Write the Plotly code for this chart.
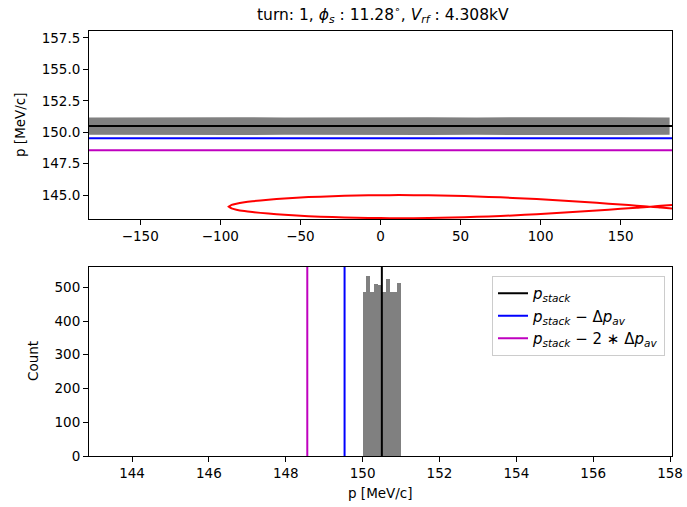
import plotly.graph_objects as go

# ---------------- data ----------------
title_text = "turn: 1, <i>ϕ<sub>s</sub></i> : 11.28<sup>∘</sup>, <i>V<sub>rf</sub></i> : 4.308kV"

p_stack = 150.50
p_stack_minus_dp = 149.53
p_stack_minus_2dp = 148.56

# particle band (phase in deg, momentum edges in MeV/c)
band_phase = [-182, -150, -120, -90, -60, -30, 0, 30, 60, 90, 120, 150, 180.5]
band_upper = [151.18, 151.20, 151.17, 151.19, 151.18, 151.20, 151.17, 151.19, 151.18, 151.20, 151.17, 151.19, 151.18]
band_lower = [149.79, 149.77, 149.80, 149.78, 149.79, 149.77, 149.80, 149.78, 149.79, 149.77, 149.80, 149.78, 149.79]

# separatrix (red)
sep_phase = [-94.7, -93, -90, -85, -80, -70, -60, -45, -30, -15, 0, 11.3, 30, 45, 60, 75, 90, 105, 120, 135, 150, 160, 168.7, 175, 182]
sep_upper = [144.08, 144.22, 144.32, 144.43, 144.51, 144.63, 144.73, 144.84, 144.91, 144.97, 144.99, 145.00, 144.98, 144.95, 144.89, 144.82, 144.73, 144.63, 144.51, 144.39, 144.25, 144.16, 144.08, 144.15, 144.22]
sep_lower = [144.08, 143.94, 143.84, 143.73, 143.65, 143.53, 143.43, 143.32, 143.25, 143.19, 143.17, 143.16, 143.18, 143.21, 143.27, 143.34, 143.43, 143.53, 143.65, 143.77, 143.91, 144.00, 144.08, 144.01, 143.94]

# histogram
hist_centers = [150.05, 150.15, 150.25, 150.35, 150.45, 150.55, 150.65, 150.75, 150.85, 150.95]
hist_counts = [486, 534, 487, 511, 507, 487, 525, 487, 487, 513]
hist_bin_width = 0.1

top_xticks = [-150, -100, -50, 0, 50, 100, 150]
top_yticks = [145.0, 147.5, 150.0, 152.5, 155.0, 157.5]
bot_xticks = [144, 146, 148, 150, 152, 154, 156, 158]
bot_yticks = [0, 100, 200, 300, 400, 500]

# ---------------- figure ----------------
W, H = 687, 507
FONT = "DejaVu Sans"
GRAY = "#808080"

fig = go.Figure()

# top panel
fig.add_trace(go.Scatter(
    x=band_phase + band_phase[::-1], y=band_upper + band_lower[::-1],
    fill="toself", fillcolor=GRAY, mode="lines", line=dict(width=0, color=GRAY),
    showlegend=False, xaxis="x", yaxis="y", hoverinfo="skip"))
top_x = [-182, 182]
for val, col in [(p_stack, "black"), (p_stack_minus_dp, "blue"), (p_stack_minus_2dp, "#bf00bf")]:
    fig.add_trace(go.Scatter(x=top_x, y=[val, val], mode="lines",
                             line=dict(color=col, width=2), showlegend=False,
                             xaxis="x", yaxis="y"))
fig.add_trace(go.Scatter(
    x=sep_phase[::-1] + sep_phase, y=sep_lower[::-1] + sep_upper,
    mode="lines", line=dict(color="red", width=2, shape="spline", smoothing=0.6),
    showlegend=False, xaxis="x", yaxis="y"))

# bottom panel
fig.add_trace(go.Bar(x=hist_centers, y=hist_counts, width=hist_bin_width,
                     marker=dict(color=GRAY, line=dict(width=0)),
                     showlegend=False, xaxis="x2", yaxis="y2"))
names = ["<i>p<sub>stack</sub></i>",
         "<i>p<sub>stack</sub></i> − Δ<i>p<sub>av</sub></i>",
         "<i>p<sub>stack</sub></i> − 2 ∗ Δ<i>p<sub>av</sub></i>"]
for val, col, nm in [(p_stack, "black", names[0]), (p_stack_minus_dp, "blue", names[1]),
                     (p_stack_minus_2dp, "#bf00bf", names[2])]:
    fig.add_trace(go.Scatter(x=[val, val], y=[0, 560], mode="lines",
                             line=dict(color=col, width=2), name=nm,
                             xaxis="x2", yaxis="y2"))

axis_common = dict(showline=True, mirror=True, linecolor="black", linewidth=1,
                   ticks="outside", ticklen=5, tickwidth=1, tickcolor="black",
                   showgrid=False, zeroline=False, automargin=False,
                   tickfont=dict(family=FONT, size=13.5, color="black"))

xd = [89 / W, 672 / W]
fig.update_layout(
    width=W, height=H, margin=dict(l=0, r=0, t=0, b=0, pad=0, autoexpand=False),
    paper_bgcolor="white", plot_bgcolor="white",
    font=dict(family=FONT, size=13.5, color="black"),
    bargap=0,
    xaxis=dict(domain=xd, range=[-182, 182], tickvals=top_xticks, anchor="y", **axis_common),
    yaxis=dict(domain=[1 - 219 / H, 1 - 31 / H], range=[143.1, 158.05],
               tickvals=top_yticks, tickformat=".1f", anchor="x", **axis_common),
    xaxis2=dict(domain=xd, range=[142.88, 158.05], tickvals=bot_xticks, anchor="y2", **axis_common),
    yaxis2=dict(domain=[1 - 456 / H, 1 - 267 / H], range=[0, 560],
                tickvals=bot_yticks, anchor="x2", **axis_common),
    legend=dict(x=665 / W, y=1 - 276 / H, xanchor="right", yanchor="top",
                bgcolor="white", bordercolor="#cccccc", borderwidth=1,
                font=dict(family=FONT, size=15), itemwidth=30, tracegroupgap=0),
    showlegend=True,
    annotations=[
        dict(text=title_text, x=383 / W, y=1 - 14 / H, xref="paper", yref="paper",
             showarrow=False, font=dict(family=FONT, size=15.5), xanchor="center", yanchor="middle"),
        dict(text="p [MeV/c]", x=20 / W, y=1 - 125 / H, xref="paper", yref="paper",
             showarrow=False, textangle=-90, font=dict(family=FONT, size=13.5),
             xanchor="center", yanchor="middle"),
        dict(text="Count", x=33 / W, y=1 - 361 / H, xref="paper", yref="paper",
             showarrow=False, textangle=-90, font=dict(family=FONT, size=13.5),
             xanchor="center", yanchor="middle"),
        dict(text="p [MeV/c]", x=380 / W, y=1 - 493 / H, xref="paper", yref="paper",
             showarrow=False, font=dict(family=FONT, size=13.5),
             xanchor="center", yanchor="middle"),
    ],
)

fig.write_html("out.html", config={"displayModeBar": False},
               post_script="document.body.style.margin='0';document.body.style.padding='0';")
